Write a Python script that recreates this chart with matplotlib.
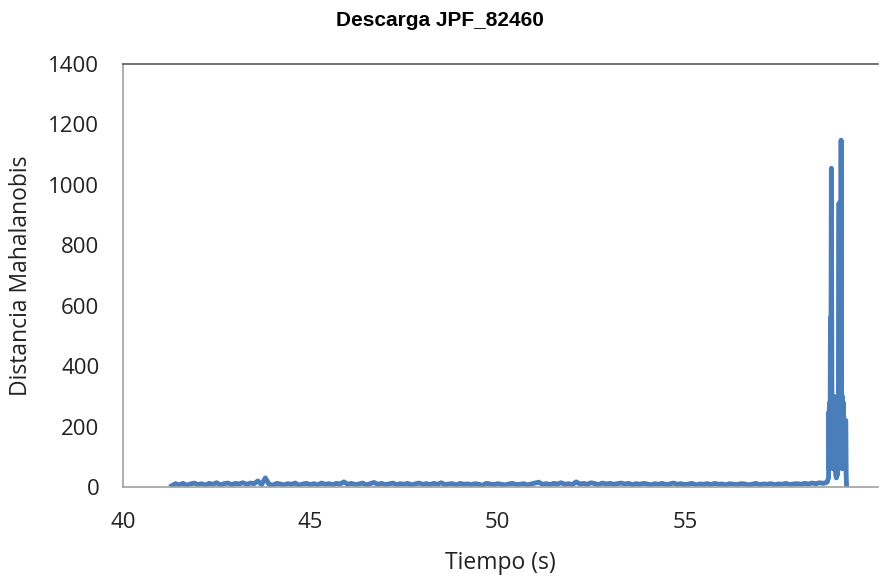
#! /usr/bin/env python3
# Mahalanobis distance vs time for discharge JPF_82460

import matplotlib
matplotlib.use('Agg')
import matplotlib.pyplot as plt

# baseline part, one sample every 0.1 s from 41.3 s
t0 = 41.3
dt = 0.1
d_base = [4, 11, 7, 12, 6, 10, 13, 8, 11, 6,
          12, 9, 14, 7, 11, 13, 8, 12, 10, 14,
          9, 13, 11, 20, 8, 30, 9, 6, 12, 10,
          7, 11, 9, 13, 6, 10, 12, 8, 11, 7,
          13, 9, 11, 8, 12, 10, 17, 9, 12, 8,
          10, 13, 7, 11, 15, 9, 12, 8, 10, 13,
          8, 11, 9, 12, 7, 10, 13, 9, 11, 8,
          12, 9, 14, 8, 10, 11, 7, 12, 9, 10,
          8, 11, 9, 6, 12, 10, 8, 11, 9, 7,
          10, 12, 8, 9, 11, 7, 10, 13, 16, 9,
          11, 8, 12, 10, 14, 9, 11, 8, 17, 10,
          12, 9, 14, 11, 8, 13, 10, 12, 9, 11,
          13, 10, 12, 8, 11, 9, 12, 10, 7, 11,
          9, 12, 8, 10, 13, 9, 11, 8, 10, 12,
          7, 10, 9, 11, 8, 12, 9, 10, 7, 11,
          9, 8, 11, 10, 7, 9, 12, 8, 10, 9,
          11, 8, 10, 9, 12, 8, 10, 11, 9, 12,
          10, 13, 11, 14, 12, 16]
t_base = [round(t0 + dt * i, 2) for i in range(len(d_base))]

# end of discharge, spikes
t_spike = [58.84, 58.85, 58.86, 58.87, 58.88, 58.89, 58.90, 58.915, 58.93, 58.94,
           58.95, 58.96, 58.97, 58.98, 58.99, 59.00, 59.02, 59.03, 59.05, 59.06,
           59.07, 59.08, 59.09, 59.10, 59.12, 59.13, 59.14, 59.15, 59.16, 59.175,
           59.19, 59.20, 59.21, 59.22, 59.23, 59.24, 59.25, 59.27, 59.28, 59.29,
           59.30, 59.31, 59.32]
d_spike = [30, 250, 60, 280, 120, 560, 200, 1055, 260, 100,
           300, 60, 280, 80, 300, 60, 250, 40, 30, 45,
           150, 40, 300, 100, 940, 200, 300, 80, 280, 1148,
           260, 60, 300, 100, 280, 80, 220, 220, 60, 220,
           220, 40, 5]

tiempo = t_base + t_spike
distancia = d_base + d_spike

fig = plt.figure(figsize=(8.8, 5.78), dpi=100)
ax = fig.add_axes([123/880, 1-487/578, (878-123)/880, (487-64)/578])

ax.plot(tiempo, distancia, color='#4a7ebb', lw=3.5, solid_joinstyle='round')

ax.set_xlim(40, 60.16)
ax.set_ylim(0, 1400)
ax.set_xticks([40, 45, 50, 55])
ax.set_yticks(range(0, 1401, 200))
ax.tick_params(axis='y', length=0, labelsize=16, labelcolor='#222222', pad=17)
ax.tick_params(axis='x', length=0, labelsize=16, labelcolor='#222222', pad=18)
for lab in ax.get_xticklabels() + ax.get_yticklabels():
    lab.set_family('Open Sans')

ax.spines['right'].set_visible(False)
ax.spines['top'].set_color('#595959')
ax.spines['top'].set_linewidth(1.2)
for s in ['left', 'bottom']:
    ax.spines[s].set_color('#a0a0a0')
    ax.spines[s].set_linewidth(1.2)

# axis titles
fig.text((123 + 755/2)/880, 1-563/578, 'Tiempo (s)', ha='center', va='center',
         family='Open Sans', fontsize=16.5, color='#222222')
fig.text(21/880, 1-(64 + 423/2)/578, 'Distancia Mahalanobis', ha='center', va='center',
         rotation=90, family='Open Sans', fontsize=16.5, color='#222222')
fig.text(0.5, 1-20/578, 'Descarga JPF_82460', ha='center', va='center',
         family='Liberation Sans', fontweight='bold', fontsize=15)

fig.savefig('out.png', dpi=100)
